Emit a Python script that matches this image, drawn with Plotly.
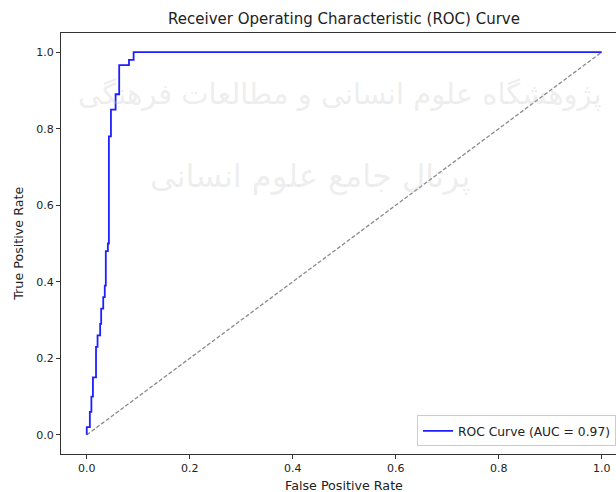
import plotly.graph_objects as go

# ROC curve points
fpr = [0.0, 0.0, 0.006, 0.006, 0.009, 0.009, 0.012, 0.012, 0.018, 0.018, 0.021, 0.021,
       0.026, 0.026, 0.028, 0.028, 0.032, 0.032, 0.035, 0.035, 0.037, 0.037, 0.041, 0.041,
       0.043, 0.043, 0.047, 0.047, 0.056, 0.056, 0.063, 0.063, 0.082, 0.082, 0.091, 0.091, 1.0]
tpr = [0.0, 0.02, 0.02, 0.06, 0.06, 0.10, 0.10, 0.15, 0.15, 0.23, 0.23, 0.26,
       0.26, 0.29, 0.29, 0.33, 0.33, 0.36, 0.36, 0.39, 0.39, 0.48, 0.48, 0.50,
       0.50, 0.78, 0.78, 0.85, 0.85, 0.89, 0.89, 0.966, 0.966, 0.98, 0.98, 1.0, 1.0]
diag_x = [0.0, 1.0]
diag_y = [0.0, 1.0]
auc_label = "ROC Curve (AUC = 0.97)"
x_ticks = [0.0, 0.2, 0.4, 0.6, 0.8, 1.0]
y_ticks = [0.0, 0.2, 0.4, 0.6, 0.8, 1.0]
tick_text = ["0.0", "0.2", "0.4", "0.6", "0.8", "1.0"]
watermark_1 = "پژوهشگاه علوم انسانی و مطالعات فرهنگی"
watermark_2 = "پرتال جامع علوم انسانی"

FONT = "DejaVu Sans"

fig = go.Figure()
fig.add_trace(go.Scatter(x=diag_x, y=diag_y, mode="lines", showlegend=False,
                         line=dict(color="#8a8a8a", width=1.3, dash="4px,2px")))
fig.add_trace(go.Scatter(x=fpr, y=tpr, mode="lines", name=auc_label,
                         line=dict(color="#1f1fff", width=1.8)))

axis_common = dict(showgrid=False, zeroline=False, showline=True, linecolor="#333333",
                   linewidth=1, ticks="outside", ticklen=4, tickwidth=0.9,
                   tickcolor="#333333", tickfont=dict(family=FONT, size=11, color="#222222"),
                   automargin=False)

fig.update_xaxes(range=[-0.05, 1.0277], tickvals=x_ticks, ticktext=tick_text,
                 mirror=True, **axis_common)
fig.update_yaxes(range=[-0.05, 1.05], tickvals=y_ticks, ticktext=tick_text, **axis_common)

fig.update_layout(
    width=616, height=492,
    margin=dict(l=61, r=0, t=33, b=38, autoexpand=False),
    paper_bgcolor="white", plot_bgcolor="white",
    font=dict(family=FONT, color="#222222"),
    title=dict(text="Receiver Operating Characteristic (ROC) Curve",
               x=344 / 616, xref="container", xanchor="center",
               y=1 - 19 / 492, yref="container", yanchor="middle",
               font=dict(family=FONT, size=15, color="#222222")),
    legend=dict(x=1.0, xanchor="right", y=0.018, yanchor="bottom",
                bgcolor="rgba(255,255,255,0.85)", bordercolor="#cccccc", borderwidth=1,
                font=dict(family=FONT, size=12.3, color="#222222"),
                itemwidth=30, tracegroupgap=0),
    annotations=[
        dict(text="False Positive Rate", xref="paper", yref="paper",
             x=(344 - 61) / 555, y=-0.075, yanchor="middle", showarrow=False,
             font=dict(family=FONT, size=12.7, color="#222222")),
        dict(text="True Positive Rate", xref="paper", yref="paper",
             x=-0.077, xanchor="center", y=0.5, textangle=-90, showarrow=False,
             font=dict(family=FONT, size=12.7, color="#222222")),
        dict(text=watermark_1, xref="paper", yref="paper", x=(340 - 61) / 555, y=0.90,
             showarrow=False, font=dict(family=FONT, size=29, color="rgba(195,195,195,0.3)")),
        dict(text=watermark_2, xref="paper", yref="paper", x=(310 - 61) / 555, y=0.66,
             showarrow=False, font=dict(family=FONT, size=32, color="rgba(195,195,195,0.3)")),
    ],
)

fig.write_html("out.html", config={"displayModeBar": False},
               post_script="document.body.style.margin='0';document.body.style.overflow='hidden';")
